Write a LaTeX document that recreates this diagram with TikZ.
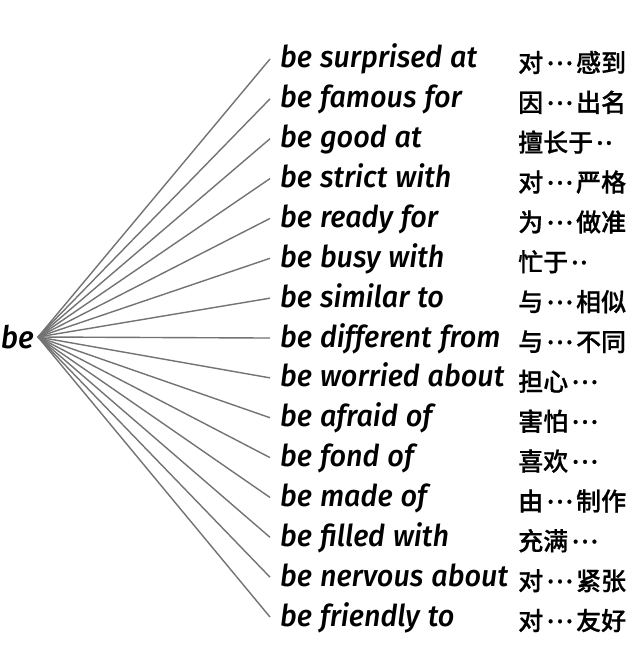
\documentclass[tikz,border=0pt]{standalone}
\usepackage{fontspec}
\setmainfont{Fira Sans}
\newfontfamily\enfont{Fira Sans}[UprightFont={* Medium Italic}, FakeStretch=0.96, WordSpace=1.15]
\newfontfamily\cjk{Noto Sans CJK SC}[UprightFont={* Medium}, FakeBold=0.6]
\newcommand{\dd}{\hspace{3pt}\raisebox{7pt}{…}\hspace{3pt}}
\newcommand{\dt}{\hspace{3pt}\raisebox{7pt}{.\kern1.5pt.}}
\begin{document}
\begin{tikzpicture}[x=1pt,y=-1pt,
  fan/.style={draw=black!55, line width=1.4pt},
  entext/.style={anchor=base west, inner sep=0pt, font=\enfont\fontsize{30}{36}\selectfont},
  zhtext/.style={anchor=base west, inner sep=0pt, font=\cjk\fontsize{25}{30}\selectfont},
  root/.style={anchor=east, inner sep=0pt, font=\enfont\fontsize{31}{36}\selectfont}]
\useasboundingbox (0,0) rectangle (640,658);
\fill[white] (0,0) rectangle (640,658);
\node[root] (be) at (34,337) {be};
\coordinate (apex) at (38,337);
\foreach \i/\en/\zh in {
  0/be surprised at/对\dd 感到,
  1/be famous for/因\dd 出名,
  2/be good at/擅长于\dt,
  3/be strict with/对\dd 严格,
  4/be ready for/为\dd 做准,
  5/be busy with/忙于\dt,
  6/be similar to/与\dd 相似,
  7/be different from/与\dd 不同,
  8/be worried about/担心\dd,
  9/be afraid of/害怕\dd,
  10/be fond of/喜欢\dd,
  11/be made of/由\dd 制作,
  12/be filled with/充满\dd,
  13/be nervous about/对\dd 紧张,
  14/be friendly to/对\dd 友好}{
  \pgfmathsetmacro{\yy}{59+\i*39.86}
  \coordinate (e\i) at (270,\yy);
  \node[entext] (en\i) at (280,\yy+9) {\en};
  \node[zhtext] (zh\i) at (518,\yy+13) {\zh};
  \draw[fan] (apex) -- (e\i);
}
\end{tikzpicture}
\end{document}
